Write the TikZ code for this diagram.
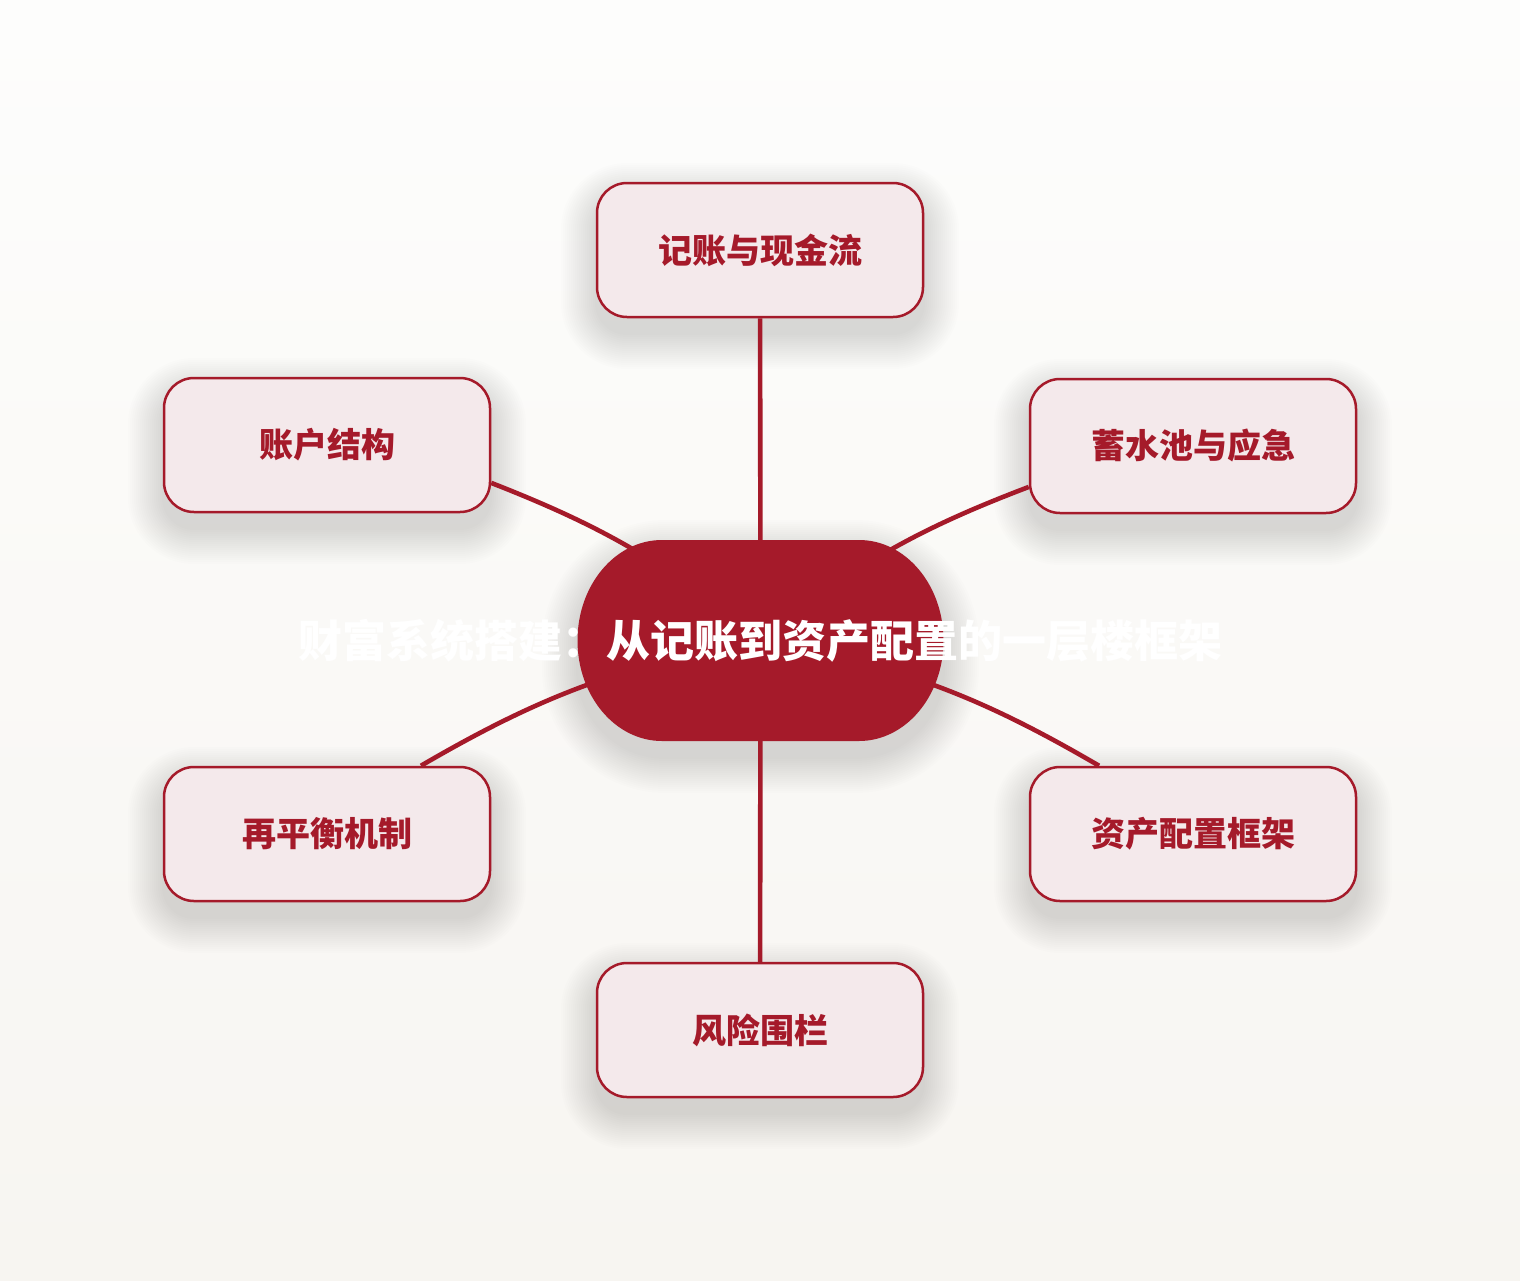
\documentclass[tikz,border=0pt]{standalone}
\usepackage{fontspec}
\newfontfamily\cjk{Noto Sans CJK SC}
\definecolor{wine}{RGB}{165,26,42}
\definecolor{blush}{RGB}{244,233,235}
\definecolor{bgtop}{RGB}{253,253,252}
\definecolor{bgbot}{RGB}{247,245,241}

\begin{document}
\begin{tikzpicture}[x=0.5pt,y=-0.5pt,
  topic/.style={draw=wine,line width=1.25pt,fill=blush,rounded corners=15pt,minimum width=163pt,minimum height=67pt,text=wine,font=\cjk\bfseries\fontsize{17pt}{20pt}\selectfont},
  link/.style={draw=wine,line width=2.3pt},
  hub/.style={fill=wine},
  haze/.style={fill=black,fill opacity=0.009},
  title/.style={inner sep=0pt,text=white,font=\cjk\bfseries\fontsize{22pt}{26pt}\selectfont}]

\shade[top color=bgtop,bottom color=bgbot] (0,0) rectangle (1520,1280);
\useasboundingbox (0,0) rectangle (1520,1280);

% soft shadows
\foreach \x/\y in {760/250,327/445,1193/446,327/834,1193/834,760/1030}
  \foreach \k in {1,...,18}{
    \pgfmathsetmacro\rr{15+\k}
    \fill[haze,rounded corners=\rr pt] ({\x-163-2*\k},{\y-67-2*\k+16}) rectangle ({\x+163+2*\k},{\y+67+2*\k+16});
  }
\foreach \k in {1,...,18}{
  \pgfmathsetmacro\rr{44+\k}
  \fill[haze,rounded corners=\rr pt] ({578-2*\k},{540-2*\k+16}) rectangle ({943+2*\k},{741+2*\k+16});
}

\coordinate (c) at (760.5,640.5);

\node[topic] (t) at (760,250) {记账与现金流};
\node[topic] (ul) at (327,445) {账户结构};
\node[topic] (ur) at (1193,446) {蓄水池与应急};
\node[topic] (ll) at (327,834) {再平衡机制};
\node[topic] (lr) at (1193,834) {资产配置框架};
\node[topic] (b) at (760,1030) {风险围栏};

\draw[link] (t) -- (c);
\draw[link] (b) -- (c);
\draw[link] (ul.-13) to[bend left=9] (c);
\draw[link] (ur.194) to[bend right=9] (c);
\draw[link] (ll.36) to[bend left=10] (c);
\draw[link] (lr.144) to[bend right=10] (c);

% centre
\path[hub] (662,540) -- (859,540) .. controls (905.7,540) and (943.5,585) .. (943.5,640.5) .. controls (943.5,696) and (905.7,741) .. (859,741) -- (662,741) .. controls (615.3,741) and (577.5,696) .. (577.5,640.5) .. controls (577.5,585) and (615.3,540) .. (662,540) -- cycle;
\node[title] (ttl) at (c) {财富系统搭建：从记账到资产配置的一层楼框架};

\end{tikzpicture}
\end{document}
